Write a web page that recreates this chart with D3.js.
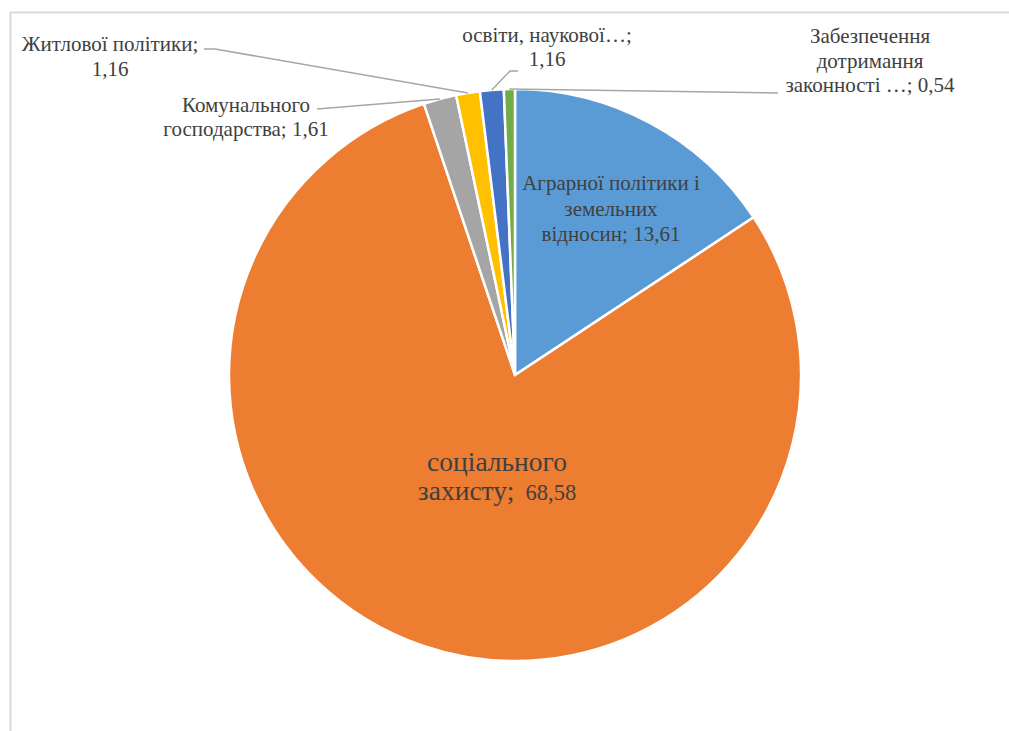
<!DOCTYPE html>
<html>
<head>
<meta charset="utf-8">
<script src="https://cdn.jsdelivr.net/npm/d3@7"></script>
<style>
  body { margin: 0; background: #fff; }
  svg { display: block; }
</style>
</head>
<body>
<svg id="chart" width="1009" height="731"></svg>
<script>
// data
var categories = ["Аграрної політики і земельних відносин", "соціального захисту",
                  "Комунального господарства", "Житлової політики",
                  "освіти, наукової…", "Забезпечення дотримання законності …"];
var values = [13.61, 68.58, 1.61, 1.16, 1.16, 0.54];
var valueLabels = ["13,61", "68,58", "1,61", "1,16", "1,16", "0,54"];
var colors = ["#5b9bd5", "#ed7d31", "#a5a5a5", "#ffc000", "#4472c4", "#70ad47"];

// label text, broken into lines as in the picture
// a line may be a list of [text, fontSize] pieces when sizes differ
var labelLines = [
    ["Аграрної політики і", "земельних", "відносин; 13,61"],
    ["соціального", [["захисту;", null], ["\u00a0 68,58", 22.5]]],
    ["Комунального", "господарства; 1,61"],
    ["Житлової політики;", "1,16"],
    ["освіти, наукової…;", "1,16"],
    ["Забезпечення", "дотримання", "законності …; 0,54"]
];

var svg = d3.select("#chart");
var cx = 515, cy = 375, radius = 286;

// chart frame
svg.append("path")
    .attr("d", "M10.5,731 L10.5,12.5 L1009,12.5")
    .attr("fill", "none")
    .attr("stroke", "#d9d9d9")
    .attr("stroke-width", 2);

var pie = d3.pie().sort(null).value(function(d) { return d; });
var arcs = pie(values);
var arc = d3.arc().innerRadius(0).outerRadius(radius);

var g = svg.append("g").attr("transform", "translate(" + cx + "," + cy + ")");

g.selectAll("path.slice")
    .data(arcs)
    .enter().append("path")
    .attr("class", "slice")
    .attr("d", arc)
    .attr("fill", function(d, i) { return colors[i]; })
    .attr("stroke", "#fff")
    .attr("stroke-width", 2.5)
    .attr("stroke-linejoin", "miter");

// point on the outer edge at the middle of a slice
function edgePoint(d) {
    var a = (d.startAngle + d.endAngle) / 2;
    return [cx + radius * Math.sin(a), cy - radius * Math.cos(a)];
}

// leader lines for the thin slices
var leaders = [
    null,
    null,
    [[317, 109]],
    [[204, 49], [215, 49]],
    [[518, 71], [510, 71]],
    [[778, 93]]
];

leaders.forEach(function(pts, i) {
    if (!pts) return;
    var p = edgePoint(arcs[i]);
    svg.append("path")
        .attr("d", d3.line()(pts.concat([p])))
        .attr("fill", "none")
        .attr("stroke", "#a6a6a6")
        .attr("stroke-width", 1.5);
});

// labels: x, y of first baseline, line height, font size
var labelPos = [
    [611, 190, 25.5, 21],
    [497, 471, 29, 27.5],
    [246, 112, 24, 21],
    [110, 51, 25, 21],
    [547, 42, 24, 21],
    [870, 43, 24.5, 21]
];

labelLines.forEach(function(lines, i) {
    var p = labelPos[i];
    var t = svg.append("text")
        .attr("text-anchor", "middle")
        .attr("fill", "#404040")
        .attr("font-family", "Liberation Serif")
        .attr("font-size", p[3] + "px");
    lines.forEach(function(line, j) {
        var pieces = typeof line === "string" ? [[line, null]] : line;
        pieces.forEach(function(piece, k) {
            var ts = t.append("tspan").text(piece[0]);
            if (k === 0) ts.attr("x", p[0]).attr("y", p[1] + j * p[2]);
            if (piece[1]) ts.attr("font-size", piece[1] + "px");
        });
    });
});
</script>
</body>
</html>
